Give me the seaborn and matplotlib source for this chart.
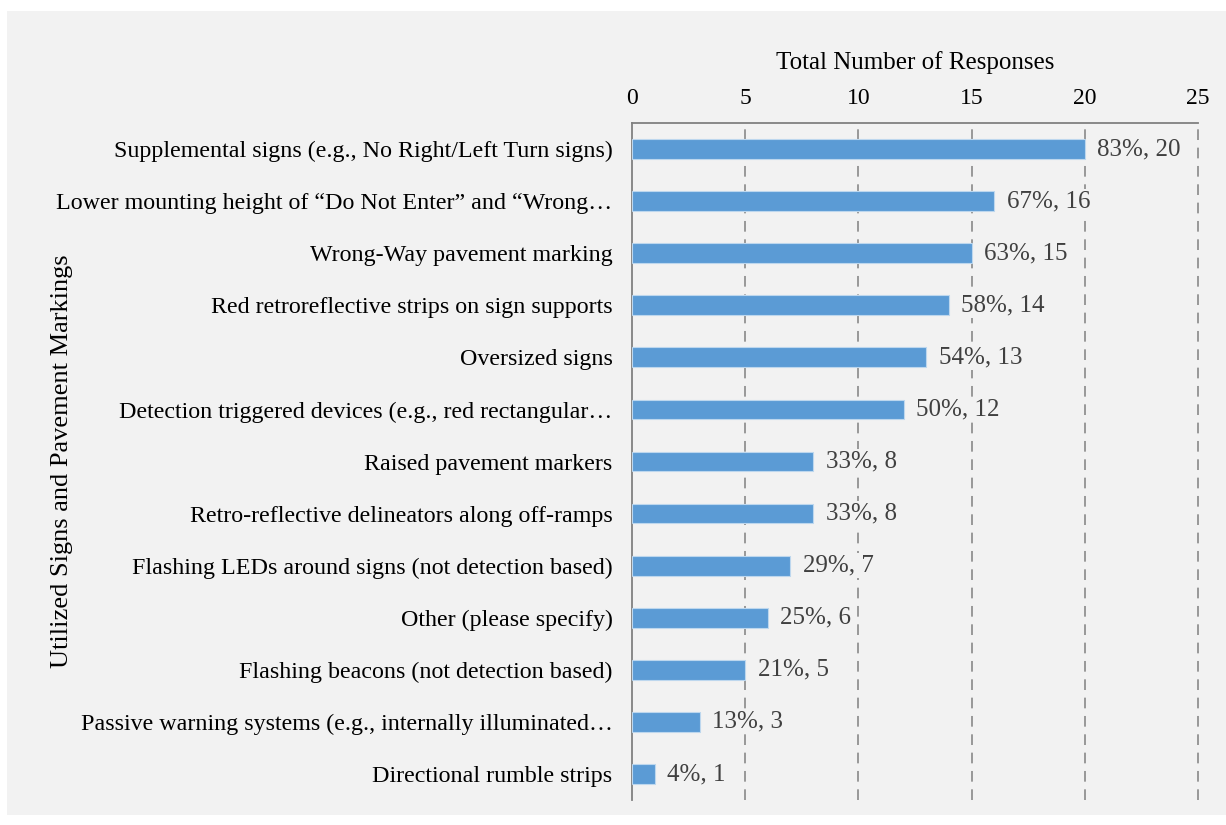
import matplotlib
matplotlib.use("Agg")
import matplotlib.pyplot as plt
import pandas as pd
import seaborn as sns

categories = [
    "Supplemental signs (e.g., No Right/Left Turn signs)",
    "Lower mounting height of \u201cDo Not Enter\u201d and \u201cWrong\u2026",
    "Wrong-Way pavement marking",
    "Red retroreflective strips on sign supports",
    "Oversized signs",
    "Detection triggered devices (e.g., red rectangular\u2026",
    "Raised pavement markers",
    "Retro-reflective delineators along off-ramps",
    "Flashing LEDs around signs (not detection based)",
    "Other (please specify)",
    "Flashing beacons (not detection based)",
    "Passive warning systems (e.g., internally illuminated\u2026",
    "Directional rumble strips",
]
responses = [20, 16, 15, 14, 13, 12, 8, 8, 7, 6, 5, 3, 1]
percents = [83, 67, 63, 58, 54, 50, 33, 33, 29, 25, 21, 13, 4]
x_ticks = [0, 5, 10, 15, 20, 25]

df = pd.DataFrame({"item": categories, "count": responses, "pct": percents})

sns.set_style("white")
plt.rcParams["font.family"] = ["Liberation Serif", "DejaVu Serif"]

fig = plt.figure(figsize=(12.26, 8.25), dpi=100)
fig.patch.set_facecolor("white")
# light grey panel behind the chart
fig.patches.append(plt.Rectangle((7 / 1226, 1 - 815 / 825), 1, (815 - 11) / 825,
                                 transform=fig.transFigure, facecolor="#F2F2F2",
                                 edgecolor="none", zorder=-10))

ax = fig.add_axes([632 / 1226, 1 - 800 / 825, (1198 - 632) / 1226, (800 - 123) / 825])
ax.set_facecolor("#F2F2F2")

sns.barplot(data=df, y="item", x="count", orient="h", color="#5B9BD5",
            width=0.38, edgecolor="#BDD7EE", linewidth=0.8, saturation=1, ax=ax,
            zorder=3)

ax.set_xlim(0, 25)
ax.set_ylim(12.5, -0.5)
ax.set_xticks(x_ticks)
ax.xaxis.tick_top()
ax.xaxis.set_label_position("top")
ax.set_xlabel("Total Number of Responses", fontsize=18, labelpad=14, color="black")
ax.set_ylabel("Utilized Signs and Pavement Markings", fontsize=19, color="black")
ax.tick_params(axis="x", length=0, pad=10, labelsize=17, labelcolor="black")
ax.tick_params(axis="y", length=0, pad=14, labelsize=17.3, labelcolor="black")
ax.yaxis.set_label_coords(-0.988, 0.5)

for x in x_ticks[1:]:
    ax.axvline(x, color="#808080", linestyle=(0, (7, 5)), linewidth=1.1,
               zorder=1, clip_on=False)

for sp in ["right", "bottom"]:
    ax.spines[sp].set_visible(False)
for sp in ["left", "top"]:
    ax.spines[sp].set_color("#808080")
    ax.spines[sp].set_linewidth(1.3)

for i, (c, p) in enumerate(zip(responses, percents)):
    ax.text(c + 0.55, i, f"{p}%, {c}", va="center", ha="left",
            fontsize=18, color="#404040", zorder=4,
            bbox=dict(facecolor="#F2F2F2", edgecolor="none", pad=1))

fig.savefig("out.png", dpi=100, facecolor=fig.get_facecolor())
